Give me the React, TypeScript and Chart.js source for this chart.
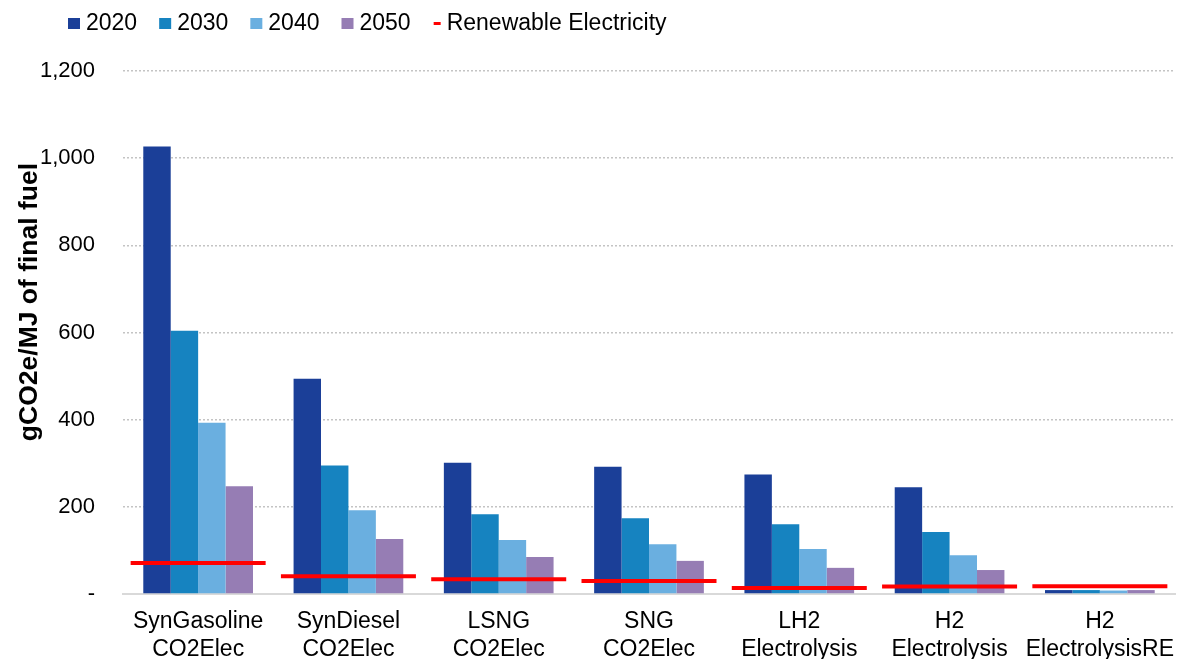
import { useEffect, useRef } from "react";
import { Chart, registerables } from "chart.js";

Chart.register(...registerables);

const categories: string[][] = [
  ["SynGasoline", "CO2Elec"],
  ["SynDiesel", "CO2Elec"],
  ["LSNG", "CO2Elec"],
  ["SNG", "CO2Elec"],
  ["LH2", "Electrolysis"],
  ["H2", "Electrolysis"],
  ["H2", "ElectrolysisRE"],
];
const seriesLabels = ["2020", "2030", "2040", "2050"];
const values2020 = [1027, 494, 301, 292, 274, 245, 9];
const values2030 = [604, 295, 183, 174, 160, 142, 9];
const values2040 = [393, 192, 124, 114, 103, 89, 8];
const values2050 = [247, 126, 85, 76, 60, 55, 9];
const renewableLabel = "Renewable Electricity";
const renewable = [71, 41, 34, 30, 14, 17, 18];
const yMin = 0;
const yMax = 1200;
const yStep = 200;
const yTitle = "gCO2e/MJ of final fuel";

const barColors = ["#1B3F98", "#1683C0", "#6AAFE0", "#967DB4"];
const lineColor = "#FF0000";
const FONT = "'Liberation Sans', Arial, sans-serif";

const overlayPlugin = {
  id: "overlay",
  afterDraw(chart: any) {
    const ctx = chart.ctx;
    ctx.save();
    // y-axis title
    ctx.font = `bold 26.5px ${FONT}`;
    ctx.fillStyle = "#000";
    ctx.textAlign = "center";
    ctx.textBaseline = "middle";
    ctx.translate(30, 302);
    ctx.rotate(-Math.PI / 2);
    ctx.fillText(yTitle, 0, 0);
    ctx.restore();

    // legend
    ctx.save();
    ctx.font = `23px ${FONT}`;
    ctx.textAlign = "left";
    ctx.textBaseline = "middle";
    let x = 68;
    const cy = 23.5;
    chart.data.datasets.forEach((ds: any) => {
      if (ds.type === "line") {
        ctx.fillStyle = ds.pointBorderColor;
        ctx.fillRect(x + 1, cy - 1.5, 7, 3);
        ctx.fillStyle = "#000";
        ctx.fillText(ds.label, x + 14, cy);
        x += 14 + ctx.measureText(ds.label).width + 22;
      } else {
        ctx.fillStyle = ds.backgroundColor;
        ctx.fillRect(x, cy - 5.5, 12, 11);
        ctx.fillStyle = "#000";
        ctx.fillText(ds.label, x + 18, cy);
        x += 18 + ctx.measureText(ds.label).width + 22;
      }
    });
    ctx.restore();
  },
};

export default function App() {
  const ref = useRef<HTMLCanvasElement | null>(null);

  useEffect(() => {
    document.body.style.margin = "0";
    const seriesValues = [values2020, values2030, values2040, values2050];
    const chart = new Chart(ref.current as HTMLCanvasElement, {
      type: "bar",
      data: {
        labels: categories,
        datasets: [
          ...seriesLabels.map((label, i) => ({
            type: "bar" as const,
            label,
            data: seriesValues[i],
            backgroundColor: barColors[i],
            borderWidth: 0,
            categoryPercentage: 0.73,
            barPercentage: 1,
            order: 1,
          })),
          {
            type: "line" as const,
            label: renewableLabel,
            data: renewable,
            showLine: false,
            clip: false,
            pointStyle: "line",
            pointRadius: 67.5,
            pointHoverRadius: 67.5,
            pointBorderWidth: 4,
            pointHoverBorderWidth: 4,
            pointBorderColor: lineColor,
            pointBackgroundColor: lineColor,
            borderColor: lineColor,
            order: 0,
          } as any,
        ],
      },
      options: {
        responsive: true,
        maintainAspectRatio: false,
        animation: false,
        layout: { autoPadding: false, padding: { top: 71, right: 8, bottom: 0, left: 0 } },
        plugins: {
          legend: { display: false },
          tooltip: { enabled: false },
        },
        scales: {
          x: {
            grid: { display: false, drawTicks: false },
            border: { display: true, color: "#D9D9D9", width: 2 },
            ticks: {
              font: { family: FONT, size: 23, lineHeight: "28px" } as any,
              color: "#000",
              padding: 14,
              maxRotation: 0,
              autoSkip: false,
            },
            afterFit(scale: any) {
              scale.height = 65;
              scale.paddingLeft = 0;
              scale.paddingRight = 0;
            },
          },
          y: {
            min: yMin,
            max: yMax,
            grid: {
              color: (c: any) => (c.tick && c.tick.value === 0 ? "rgba(0,0,0,0)" : "#C4C4C4"),
              lineWidth: 1.5,
              drawTicks: false,
            },
            border: { display: false, dash: [2, 2] },
            ticks: {
              stepSize: yStep,
              font: { family: FONT, size: 22 },
              color: "#000",
              padding: 28,
              callback: (v: any) => (Number(v) === 0 ? "-" : Number(v).toLocaleString("en-US")),
            },
            afterFit(scale: any) {
              scale.width = 123;
              scale.paddingTop = 0;
              scale.paddingBottom = 0;
            },
          },
        },
      },
      plugins: [overlayPlugin],
    });
    return () => chart.destroy();
  }, []);

  return (
    <div style={{ position: "relative", width: 1183, height: 659 }}>
      <canvas ref={ref} />
    </div>
  );
}
